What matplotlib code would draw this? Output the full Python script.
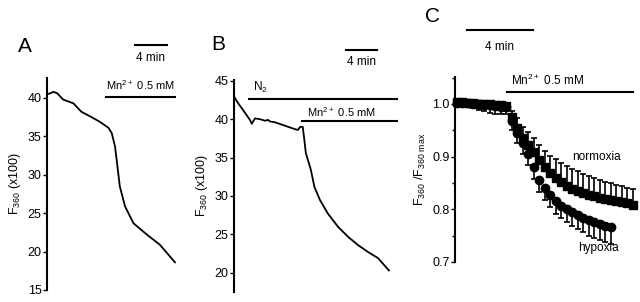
import numpy as np
import matplotlib
matplotlib.use("Agg")
import matplotlib.pyplot as plt

plt.rcParams['font.family'] = ['Liberation Sans', 'DejaVu Sans']
plt.rcParams['mathtext.fontset'] = 'custom'
plt.rcParams['mathtext.rm'] = 'Liberation Sans'

# Panel A: trace (minutes, F360 x100)
a_time = [0, 0.4, 0.8, 1.3, 2.0, 3.3, 4.3, 5.4, 6.6, 7.7, 8.1, 8.5, 8.7, 9.1, 9.75, 10.8, 12.5, 14.1, 16.0]
a_f360 = [40.5, 40.6, 40.8, 40.6, 39.8, 39.3, 38.2, 37.6, 36.9, 36.1, 35.4, 33.7, 32.0, 28.5, 25.9, 23.7, 22.2, 20.9, 18.6]

# Panel B: trace under N2
b_time = [0, 0.52, 1.16, 2.06, 2.28, 2.71, 3.35, 3.97, 4.41, 4.63, 5.27, 6.14, 7.0, 7.85, 8.25, 8.52, 8.86, 9.07, 9.26, 9.91, 10.36, 11.07, 12.11, 13.4, 14.69, 16.0, 17.29, 18.58, 19.98]
b_f360 = [42.95, 42.1, 41.2, 39.9, 39.4, 40.1, 40.0, 39.8, 39.9, 39.7, 39.6, 39.3, 39.0, 38.7, 38.6, 39.0, 39.0, 37.3, 35.6, 33.4, 31.2, 29.5, 27.7, 26.0, 24.7, 23.6, 22.7, 21.9, 20.3]

# Panel C: normalised F360, sampled every 20 s
norm_mean = [1.003, 1.003, 1.002, 1.001, 1.0, 1.0, 0.999, 0.998, 0.997, 0.996,
             0.975, 0.955, 0.935, 0.922, 0.908, 0.893, 0.88, 0.869, 0.86, 0.851,
             0.845, 0.839, 0.835, 0.831, 0.828, 0.825, 0.822, 0.819, 0.817, 0.815,
             0.813, 0.811, 0.809]
norm_err = [0.003, 0.003, 0.003, 0.003, 0.004, 0.004, 0.004, 0.005, 0.005, 0.006,
            0.012, 0.018, 0.022, 0.025, 0.027, 0.029, 0.031, 0.033, 0.035, 0.037,
            0.038, 0.038, 0.037, 0.036, 0.035, 0.034, 0.033, 0.032, 0.032, 0.031,
            0.031, 0.030, 0.030]
hyp_mean = [1.002, 1.002, 1.001, 1.0, 0.999, 0.998, 0.997, 0.996, 0.995, 0.995,
            0.968, 0.945, 0.925, 0.905, 0.88, 0.855, 0.84, 0.827, 0.815, 0.807,
            0.8, 0.794, 0.789, 0.784, 0.779, 0.775, 0.772, 0.769, 0.766]
hyp_err = [0.004, 0.005, 0.006, 0.008, 0.010, 0.012, 0.014, 0.015, 0.015, 0.015,
           0.018, 0.020, 0.020, 0.021, 0.022, 0.022, 0.023, 0.023, 0.023, 0.024,
           0.025, 0.026, 0.027, 0.028, 0.029, 0.030, 0.031, 0.031, 0.032]
c_step = 1 / 3

W, H = 640, 302
fig = plt.figure(figsize=(W / 100, H / 100), dpi=100)


def px_axes(l, t, r, b):
    return fig.add_axes([l / W, 1 - b / H, (r - l) / W, (b - t) / H])


def style(ax):
    for s in ['top', 'right', 'bottom']:
        ax.spines[s].set_visible(False)
    ax.spines['left'].set_linewidth(1.5)
    ax.set_xticks([])
    ax.tick_params(axis='y', direction='out', length=3, width=1, labelsize=9, pad=1)
    ax.patch.set_alpha(0)


ylab360 = r'F$_{\mathregular{360}}$ (x100)'
mn_label = r'Mn$^{\mathregular{2+}}$ 0.5 mM'

# ---- A
axA = px_axes(47, 78, 179, 290)
style(axA)
axA.plot(a_time, a_f360, color='black', lw=1.3)
axA.set_xlim(0, 16.5)
axA.set_ylim(15, 42.6)
axA.set_yticks([15, 20, 25, 30, 35, 40])
axA.set_ylabel(ylab360, fontsize=9, labelpad=3)
axA.plot([11, 15], [46.9, 46.9], color='black', lw=1.5, clip_on=False)
axA.text(13, 45.2, '4 min', ha='center', va='center', fontsize=8.5)
axA.plot([7.4, 16], [40.1, 40.1], color='black', lw=1.5, clip_on=False)
axA.text(11.7, 41.7, mn_label, ha='center', va='center', fontsize=8)
fig.text(25 / W, 1 - 47 / H, 'A', fontsize=15, ha='center', va='center')

# ---- B
axB = px_axes(234, 80, 400, 292)
style(axB)
axB.plot(b_time, b_f360, color='black', lw=1.3)
axB.set_xlim(0, 21.4)
axB.set_ylim(17.5, 45.1)
axB.set_yticks([20, 25, 30, 35, 40, 45])
axB.set_ylabel(ylab360, fontsize=9, labelpad=3)
axB.plot([14.45, 18.45], [49.0, 49.0], color='black', lw=1.5, clip_on=False)
axB.text(16.45, 47.4, '4 min', ha='center', va='center', fontsize=8.5)
axB.plot([1.94, 21.0], [42.65, 42.65], color='black', lw=1.5)
axB.text(2.4, 44.1, r'N$_{\mathregular{2}}$', ha='left', va='center', fontsize=8.5)
axB.plot([8.8, 21.0], [39.8, 39.8], color='black', lw=1.5)
axB.text(13.8, 40.9, mn_label, ha='center', va='center', fontsize=8)
fig.text(218 / W, 1 - 45 / H, 'B', fontsize=15, ha='center', va='center')

# ---- C
axC = px_axes(455, 77, 636, 262)
style(axC)
tn = np.arange(len(norm_mean)) * c_step
th = np.arange(len(hyp_mean)) * c_step
axC.errorbar(tn, norm_mean, yerr=[np.zeros(len(norm_err)), norm_err], fmt='s', color='black',
             ms=5.5, capsize=2.5, elinewidth=1.2, capthick=1.2, clip_on=False)
axC.errorbar(th, hyp_mean, yerr=[hyp_err, np.zeros(len(hyp_err))], fmt='o', color='black',
             ms=6, capsize=2.5, elinewidth=1.2, capthick=1.2, clip_on=False)
axC.set_xlim(-0.12, 10.85)
axC.set_ylim(0.7, 1.051)
axC.set_yticks([0.7, 0.8, 0.9, 1.0])
axC.set_yticks([0.75, 0.85, 0.95, 1.05], minor=True)
axC.tick_params(axis='y', which='minor', direction='out', length=2, width=1)
axC.set_ylabel(r'F$_{\mathregular{360}}$ /F$_{\mathregular{360\ max}}$', fontsize=9, labelpad=3)
axC.plot([0.61, 4.61], [1.141, 1.141], color='black', lw=1.5, clip_on=False)
axC.text(2.55, 1.108, '4 min', ha='center', va='center', fontsize=8.5)
axC.plot([3.03, 10.67], [1.023, 1.023], color='black', lw=1.5, clip_on=False)
axC.text(5.5, 1.045, mn_label, ha='center', va='center', fontsize=8.5)
axC.text(8.45, 0.9, 'normoxia', ha='center', va='center', fontsize=8.5)
axC.text(8.55, 0.726, 'hypoxia', ha='center', va='center', fontsize=8.5)
fig.text(432 / W, 1 - 16 / H, 'C', fontsize=15, ha='center', va='center')

fig.savefig('out.png', dpi=100)
